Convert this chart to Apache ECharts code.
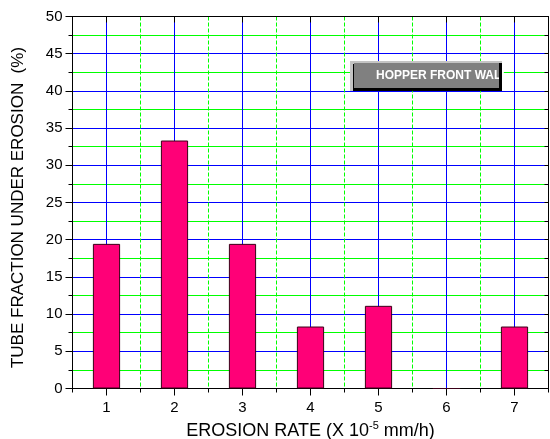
<!DOCTYPE html>
<html>
<head>
<meta charset="utf-8">
<script src="https://cdn.jsdelivr.net/npm/echarts@6/dist/echarts.min.js"></script>
<style>html,body{margin:0;padding:0;background:#fff}#chart{width:550px;height:439px}</style>
</head>
<body>
<div id="chart"></div>
<script>
// Data
const categories = ['1', '2', '3', '4', '5', '6', '7'];
const tubeFraction = [19.44, 33.33, 19.44, 8.33, 11.11, 0, 8.33];
const seriesName = 'HOPPER FRONT WALL';
const yMin = 0, yMax = 50, yStep = 5;
const xTitle = 'EROSION RATE (X 10{sup|-5} mm/h)';
const yTitle = 'TUBE FRACTION UNDER EROSION  (%)';

const FONT = 'Liberation Sans, Arial, sans-serif';
const chart = echarts.init(document.getElementById('chart'), null, {renderer: 'canvas'});
const black = '#000';
const xLo = +categories[0] - 0.5, xHi = +categories[categories.length - 1] + 0.5;
const option = {
  animation: false,
  backgroundColor: '#fff',
  grid: {left: 72.5, right: 1.5, top: 16.5, bottom: 50.5, containLabel: false, outerBoundsMode: 'none'},
  xAxis: [
    {
      type: 'category', position: 'bottom', data: categories, boundaryGap: true,
      axisLine: {show: true, lineStyle: {color: black, width: 1}},
      axisTick: {show: true, alignWithLabel: true, length: 7, lineStyle: {color: black}},
      axisLabel: {fontFamily: FONT, fontSize: 15, color: black, margin: 12},
      splitLine: {show: false},
      name: xTitle, nameLocation: 'middle', nameGap: 32,
      nameTextStyle: {fontFamily: FONT, fontSize: 18, color: black,
        rich: {sup: {fontFamily: FONT, fontSize: 11, color: black, padding: [0, 0, 10, 0]}}}
    },
    {
      type: 'category', position: 'bottom', data: categories, boundaryGap: true,
      axisLine: {show: false}, axisLabel: {show: false},
      axisTick: {show: true, length: 4, lineStyle: {color: black}},
      splitLine: {show: false}
    },
    {
      type: 'value', position: 'bottom', min: xLo, max: xHi, interval: 0.5,
      axisLine: {show: false}, axisLabel: {show: false}, axisTick: {show: false},
      splitLine: {show: true, lineStyle: {color: ['rgba(0,0,0,0)', '#0000ff'], width: 1}}
    },
    {
      type: 'value', position: 'bottom', min: xLo, max: xHi, interval: 0.5,
      axisLine: {show: false}, axisLabel: {show: false}, axisTick: {show: false},
      splitLine: {show: true, lineStyle: {color: ['#00ff00', 'rgba(0,0,0,0)'], width: 1, type: [4, 2]}}
    },
    {
      type: 'category', position: 'top', data: categories, boundaryGap: true,
      axisLine: {show: true, lineStyle: {color: black, width: 1}},
      axisTick: {show: true, alignWithLabel: true, inside: true, length: 6, lineStyle: {color: black}},
      axisLabel: {show: false},
      splitLine: {show: false}
    }
  ],
  yAxis: [
    {
      type: 'value', position: 'left', min: yMin, max: yMax, interval: yStep,
      axisLine: {show: true, lineStyle: {color: black, width: 1}},
      axisTick: {show: true, length: 7, lineStyle: {color: black}},
      minorTick: {show: true, splitNumber: 2, length: 4, lineStyle: {color: black}},
      axisLabel: {fontFamily: FONT, fontSize: 15, color: black, margin: 10},
      splitLine: {show: true, lineStyle: {color: '#0000ff', width: 1}},
      minorSplitLine: {show: true, lineStyle: {color: '#00ff00', width: 1}},
      name: yTitle, nameLocation: 'middle', nameGap: 46, nameRotate: 90,
      nameTextStyle: {fontFamily: FONT, fontSize: 17, color: black, padding: [0, 10, 0, 0]}
    },
    {
      type: 'value', position: 'right', min: yMin, max: yMax, interval: yStep,
      axisLine: {show: true, lineStyle: {color: black, width: 1}},
      axisTick: {show: true, inside: true, length: 4, lineStyle: {color: black}},
      minorTick: {show: true, splitNumber: 2, length: 4, lineStyle: {color: black}},
      axisLabel: {show: false},
      splitLine: {show: false}
    }
  ],
  series: [
    {
      name: seriesName, type: 'bar', xAxisIndex: 0, yAxisIndex: 0,
      data: tubeFraction, barWidth: '40%', z: 3,
      itemStyle: {color: '#ff0077', borderColor: '#3a0018', borderWidth: 1}
    }
  ],
  graphic: [
    {type: 'rect', z: 20, shape: {x: 350, y: 61, width: 152, height: 30}, style: {fill: '#c4c4c4'}},
    {type: 'rect', z: 21, shape: {x: 353, y: 64, width: 149, height: 27}, style: {fill: '#000'}},
    {type: 'rect', z: 22, shape: {x: 354, y: 63, width: 145, height: 25}, style: {fill: '#808080'}},
    {type: 'text', z: 23, x: 376, y: 76,
      style: {text: seriesName, fill: '#fff', font: 'bold 12px ' + FONT, verticalAlign: 'middle'}},
    {type: 'rect', z: 24, shape: {x: 499, y: 63, width: 3, height: 28}, style: {fill: '#000'}}
  ]
};
chart.setOption(option);
</script>
</body>
</html>
